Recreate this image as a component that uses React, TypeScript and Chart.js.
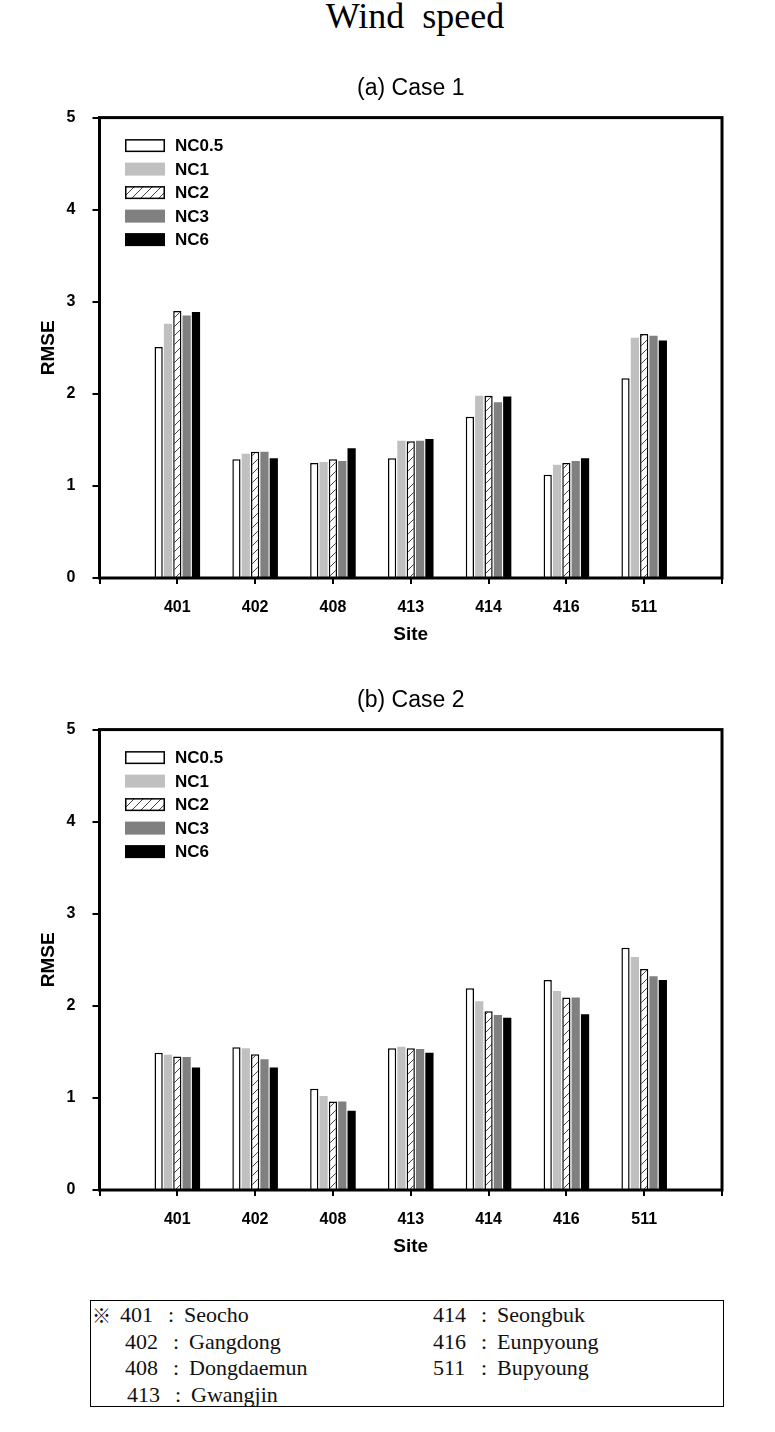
import React, { useEffect, useRef } from "react";
import { Chart, registerables } from "chart.js";

Chart.register(...registerables);

// ---------- data ----------
const sites = ["", "401", "402", "408", "413", "414", "416", "511", ""];
const seriesNames = ["NC0.5", "NC1", "NC2", "NC3", "NC6"];
const yMin = 0;
const yMax = 5;
const yStep = 1;

const case1NC05 = [null, 2.51, 1.29, 1.25, 1.3, 1.75, 1.12, 2.17, null];
const case1NC1 = [null, 2.76, 1.35, 1.26, 1.49, 1.98, 1.23, 2.61, null];
const case1NC2 = [null, 2.9, 1.37, 1.29, 1.485, 1.98, 1.25, 2.65, null];
const case1NC3 = [null, 2.85, 1.37, 1.27, 1.49, 1.91, 1.27, 2.63, null];
const case1NC6 = [null, 2.89, 1.3, 1.41, 1.51, 1.97, 1.3, 2.58, null];

const case2NC05 = [null, 1.49, 1.55, 1.1, 1.54, 2.19, 2.28, 2.63, null];
const case2NC1 = [null, 1.47, 1.54, 1.02, 1.555, 2.05, 2.16, 2.53, null];
const case2NC2 = [null, 1.45, 1.475, 0.96, 1.54, 1.94, 2.09, 2.4, null];
const case2NC3 = [null, 1.445, 1.42, 0.96, 1.53, 1.9, 2.09, 2.32, null];
const case2NC6 = [null, 1.33, 1.33, 0.86, 1.49, 1.87, 1.91, 2.28, null];

const footerLeft = [
  ["401", "Seocho"],
  ["402", "Gangdong"],
  ["408", "Dongdaemun"],
  ["413", "Gwangjin"],
];
const footerRight = [
  ["414", "Seongbuk"],
  ["416", "Eunpyoung"],
  ["511", "Bupyoung"],
];

if (typeof document !== "undefined") {
  document.body.style.margin = "0";
}

const SANS = "'Liberation Sans', Arial, sans-serif";
const SERIF = "'Liberation Serif', 'Times New Roman', serif";

function makeHatch(): CanvasPattern | string {
  const c = document.createElement("canvas");
  c.width = 9;
  c.height = 9;
  const g = c.getContext("2d");
  if (!g) return "#fff";
  g.fillStyle = "#fff";
  g.fillRect(0, 0, 9, 9);
  g.strokeStyle = "#404040";
  g.lineWidth = 1;
  g.beginPath();
  g.moveTo(-1, 10);
  g.lineTo(10, -1);
  g.moveTo(-1, 1);
  g.lineTo(1, -1);
  g.moveTo(8, 10);
  g.lineTo(10, 8);
  g.stroke();
  const p = g.createPattern(c, "repeat");
  return p || "#fff";
}

const framePlugin = {
  id: "frameAndLegend",
  afterDatasetsDraw(chart: any) {
    const { ctx, chartArea: ca } = chart;
    ctx.save();
    ctx.strokeStyle = "#000";
    ctx.lineWidth = 3;
    ctx.strokeRect(ca.left, ca.top, ca.right - ca.left, ca.bottom - ca.top);
    ctx.restore();
  },
  afterDraw(chart: any) {
    const { ctx, chartArea: ca } = chart;
    ctx.save();
    chart.data.datasets.forEach((ds: any, i: number) => {
      const cy = ca.top + 28 + i * 23.5;
      const x = ca.left + 25.5;
      ctx.fillStyle = ds.backgroundColor;
      ctx.fillRect(x, cy - 6.5, 40, 13);
      if (ds.borderWidth) {
        ctx.lineWidth = 1.5;
        ctx.strokeStyle = "#000";
        ctx.strokeRect(x + 0.75, cy - 5.75, 38.5, 11.5);
      }
      ctx.fillStyle = "#000";
      ctx.font = `bold 17px ${SANS}`;
      ctx.textBaseline = "middle";
      ctx.textAlign = "left";
      ctx.fillText(ds.label, ca.left + 75.5, cy + 1);
    });
    ctx.restore();
  },
};

type PanelProps = { title: string; series: (number | null)[][]; top: number };

function Panel({ title, series, top }: PanelProps) {
  const ref = useRef<HTMLCanvasElement | null>(null);
  useEffect(() => {
    if (!ref.current) return;
    const hatch = makeHatch();
    const fills = ["#ffffff", "#c0c0c0", hatch, "#808080", "#000000"];
    const borders = [1.5, 0, 1.5, 0, 0];
    const chart = new Chart(ref.current, {
      type: "bar",
      data: {
        labels: sites,
        datasets: seriesNames.map((name, i) => ({
          label: name,
          data: series[i],
          backgroundColor: fills[i] as any,
          borderColor: "#000",
          borderWidth: borders[i],
          categoryPercentage: 0.6,
          barPercentage: 0.88,
        })),
      },
      options: {
        responsive: false,
        animation: false,
        layout: { padding: { left: 0, right: 53, top: 0, bottom: 0 } },
        plugins: {
          legend: { display: false },
          tooltip: { enabled: false },
          title: {
            display: true,
            text: title,
            fullSize: false,
            color: "#000",
            font: { family: SANS, size: 23, weight: "normal" },
            padding: { top: 15, bottom: 15 },
          },
        },
        scales: {
          x: {
            type: "category",
            offset: false,
            border: { display: false },
            grid: {
              offset: false,
              drawOnChartArea: false,
              drawTicks: true,
              tickLength: 6,
              lineWidth: 2,
              color: "#000",
            },
            ticks: {
              autoSkip: false,
              maxRotation: 0,
              padding: 14,
              color: "#000",
              font: { family: SANS, size: 16, weight: "bold" },
            },
            title: {
              display: true,
              text: "Site",
              color: "#000",
              font: { family: SANS, size: 19, weight: "bold" },
              padding: { top: 0, bottom: 14 },
            },
            afterFit: (s: any) => {
              s.height = 82;
            },
          },
          y: {
            min: yMin,
            max: yMax,
            border: { display: false },
            grid: {
              drawOnChartArea: false,
              drawTicks: true,
              tickLength: 7,
              lineWidth: 2,
              color: "#000",
            },
            ticks: {
              stepSize: yStep,
              padding: 17,
              color: "#000",
              font: { family: SANS, size: 16, weight: "bold" },
            },
            title: {
              display: true,
              text: "RMSE",
              color: "#000",
              font: { family: SANS, size: 19, weight: "bold" },
              padding: { top: 37, bottom: 0 },
            },
            afterFit: (s: any) => {
              s.width = 99.5;
            },
          },
        },
      },
      plugins: [framePlugin],
    });
    return () => chart.destroy();
  }, [title, series]);
  return (
    <canvas
      ref={ref}
      width={775}
      height={600}
      style={{ position: "absolute", left: 0, top, width: 775, height: 600 }}
    />
  );
}

const case1 = [case1NC05, case1NC1, case1NC2, case1NC3, case1NC6];
const case2 = [case2NC05, case2NC1, case2NC2, case2NC3, case2NC6];

export default function App() {
  const rowTop = (i: number) => 1302 + i * 26.5;
  const txt: React.CSSProperties = {
    position: "absolute",
    fontFamily: SERIF,
    fontSize: 22,
    lineHeight: "26px",
    color: "#111",
    whiteSpace: "pre",
  };
  return (
    <div style={{ position: "relative", width: 775, height: 1432, background: "#fff", overflow: "hidden" }}>
      <div
        style={{
          position: "absolute",
          left: 0,
          width: 830,
          top: -2,
          textAlign: "center",
          fontFamily: SERIF,
          fontSize: 36,
          lineHeight: "36px",
          color: "#000",
          whiteSpace: "pre",
        }}
      >
        {"Wind  speed"}
      </div>
      <Panel title="(a) Case 1" series={case1} top={60} />
      <Panel title="(b) Case 2" series={case2} top={672} />
      <div
        style={{
          position: "absolute",
          left: 90,
          top: 1300,
          width: 634,
          height: 107,
          border: "1px solid #000",
          boxSizing: "border-box",
        }}
      />
      <span style={{ ...txt, left: 92, top: rowTop(0), fontFamily: "'Noto Sans CJK KR', sans-serif", fontSize: 19 }}>※</span>
      {footerLeft.map(([n, name], i) => (
        <React.Fragment key={n}>
          <span style={{ ...txt, left: i === 0 ? 120 : 125 + (i === 3 ? 2 : 0), top: rowTop(i) }}>{n}</span>
          <span style={{ ...txt, left: i === 0 ? 168 : 173 + (i === 3 ? 2 : 0), top: rowTop(i) }}>:</span>
          <span style={{ ...txt, left: i === 0 ? 184 : 189 + (i === 3 ? 2 : 0), top: rowTop(i) }}>{name}</span>
        </React.Fragment>
      ))}
      {footerRight.map(([n, name], i) => (
        <React.Fragment key={n}>
          <span style={{ ...txt, left: 433, top: rowTop(i) }}>{n}</span>
          <span style={{ ...txt, left: 481, top: rowTop(i) }}>:</span>
          <span style={{ ...txt, left: 497, top: rowTop(i) }}>{name}</span>
        </React.Fragment>
      ))}
    </div>
  );
}
